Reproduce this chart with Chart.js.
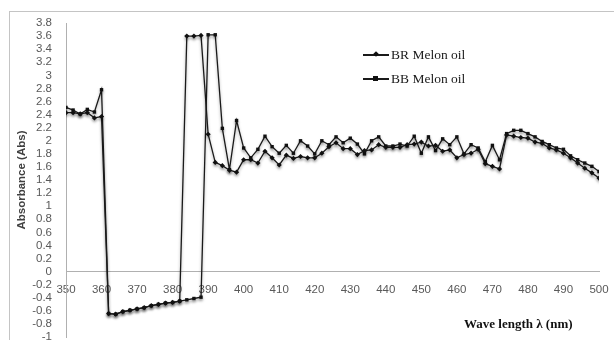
<!DOCTYPE html>
<html>
<head>
<meta charset="utf-8">
<script src="https://cdn.jsdelivr.net/npm/chart.js@4.4.1/dist/chart.umd.min.js"></script>
<style>
  html, body { margin: 0; padding: 0; background: #fff; overflow: hidden; }
  #wrap { position: relative; width: 614px; height: 340px; overflow: hidden; }
  #frame { position: absolute; left: 9px; top: 11px; width: 700px; height: 400px; border: 1px solid #c4c4c4; }
  canvas { position: absolute; left: 0; top: 0; }
  .leg { position: absolute; font-family: "Liberation Serif", "Times New Roman", serif; font-size: 13.5px; color: #1a1a1a; line-height: 16px; white-space: nowrap; }
  .legLine { position: absolute; height: 1.5px; background: #1a1a1a; }
  .legMark { position: absolute; background: #111; }
  #xTitle { position: absolute; left: 464px; top: 316px; font-family: "Liberation Serif", "Times New Roman", serif; font-weight: bold; font-size: 13px; color: #111; white-space: nowrap; }
</style>
</head>
<body>
<div id="wrap">
  <div id="frame"></div>
  <!-- canvas is a bit taller than the window: the axis at y = 0 keeps room below the plot -->
  <canvas id="chart" width="614" height="350"></canvas>

  <!-- legend -->
  <div class="legLine" style="left:363px; top:54px; width:26px;"></div>
  <div class="legMark" style="left:374px; top:52px; width:4px; height:4px; transform:rotate(45deg);"></div>
  <div class="leg" style="left:391px; top:47px;">BR Melon oil</div>

  <div class="legLine" style="left:363px; top:78px; width:26px;"></div>
  <div class="legMark" style="left:373px; top:76px; width:5px; height:5px;"></div>
  <div class="leg" style="left:391px; top:71px;">BB Melon oil</div>

  <div id="xTitle">Wave length λ (nm)</div>
</div>

<script>
// wavelength (nm), one reading every 2 nm
const wavelengths = [
  350, 352, 354, 356, 358, 360, 362, 364, 366, 368, 370, 372, 374, 376, 378, 380,
  382, 384, 386, 388, 390, 392, 394, 396, 398, 400, 402, 404, 406, 408, 410, 412,
  414, 416, 418, 420, 422, 424, 426, 428, 430, 432, 434, 436, 438, 440, 442, 444,
  446, 448, 450, 452, 454, 456, 458, 460, 462, 464, 466, 468, 470, 472, 474, 476,
  478, 480, 482, 484, 486, 488, 490, 492, 494, 496, 498, 500
];

const brMelon = [
  2.43, 2.43, 2.41, 2.43, 2.35, 2.37, -0.64, -0.65, -0.61, -0.59, -0.57, -0.55, -0.52, -0.50, -0.48, -0.47,
  -0.45, 3.60, 3.60, 3.61, 2.10, 1.67, 1.62, 1.55, 1.52, 1.71, 1.71, 1.66, 1.84, 1.74, 1.63, 1.78,
  1.73, 1.76, 1.74, 1.74, 1.81, 1.91, 1.97, 1.88, 1.88, 1.79, 1.85, 1.86, 1.94, 1.90, 1.90, 1.90,
  1.94, 1.95, 1.98, 1.92, 1.93, 1.84, 1.86, 1.74, 1.79, 1.81, 1.87, 1.65, 1.61, 1.57, 2.09, 2.07,
  2.05, 2.04, 1.98, 1.96, 1.89, 1.86, 1.81, 1.74, 1.66, 1.58, 1.51, 1.43
];

const bbMelon = [
  2.51, 2.47, 2.41, 2.48, 2.44, 2.78, -0.64, -0.65, -0.61, -0.59, -0.57, -0.55, -0.52, -0.50, -0.48, -0.47,
  -0.45, -0.43, -0.41, -0.39, 3.62, 3.62, 2.19, 1.56, 2.31, 1.89, 1.74, 1.87, 2.07, 1.91, 1.81, 1.93,
  1.81, 2.00, 1.92, 1.80, 2.00, 1.94, 2.06, 1.97, 2.04, 1.95, 1.80, 2.00, 2.06, 1.92, 1.92, 1.95,
  1.92, 2.07, 1.81, 2.06, 1.85, 2.03, 1.94, 2.06, 1.80, 1.94, 1.89, 1.68, 1.93, 1.71, 2.11, 2.16,
  2.16, 2.11, 2.06, 1.99, 1.94, 1.89, 1.87, 1.77, 1.71, 1.66, 1.61, 1.53
];

const seriesNames = ["BR Melon oil", "BB Melon oil"];
const yTitle = "Absorbance (Abs)";

const toPoints = (vals) => vals.map((v, i) => ({ x: wavelengths[i], y: v }));

// soft drop shadow under the lines, like the original
const lineShadow = {
  id: "lineShadow",
  beforeDatasetsDraw(chart) {
    const ctx = chart.ctx;
    ctx.save();
    ctx.shadowColor = "rgba(0,0,0,0.35)";
    ctx.shadowBlur = 3;
    ctx.shadowOffsetY = 2;
  },
  afterDatasetsDraw(chart) {
    chart.ctx.restore();
  }
};

const tickFont = { family: "'Liberation Sans', Arial, sans-serif", size: 11.5 };

new Chart(document.getElementById("chart"), {
  type: "line",
  data: {
    datasets: [
      {
        label: seriesNames[0],
        data: toPoints(brMelon),
        borderColor: "#1a1a1a",
        backgroundColor: "#111",
        borderWidth: 1.3,
        pointStyle: "rectRot",
        pointRadius: 2.6,
        pointBorderWidth: 0,
        tension: 0
      },
      {
        label: seriesNames[1],
        data: toPoints(bbMelon),
        borderColor: "#1a1a1a",
        backgroundColor: "#111",
        borderWidth: 1.3,
        pointStyle: "rect",
        pointRadius: 2.4,
        pointBorderWidth: 0,
        tension: 0
      }
    ]
  },
  options: {
    responsive: false,
    animation: false,
    layout: { padding: { top: 23, bottom: 6, left: 0, right: 15 } },
    plugins: {
      legend: { display: false },
      tooltip: { enabled: false }
    },
    scales: {
      x: {
        type: "linear",
        position: { y: 0 },
        min: 350,
        max: 500,
        grid: { display: false },
        border: { display: true, color: "#b0b0b0", width: 1 },
        ticks: {
          stepSize: 10,
          padding: 3,
          color: "#595959",
          font: tickFont,
          maxRotation: 0,
          autoSkip: false,
          callback: (v) => String(v)
        }
      },
      y: {
        min: -1,
        max: 3.8,
        grid: { display: false },
        border: { display: true, color: "#b0b0b0", width: 1 },
        ticks: {
          stepSize: 0.2,
          padding: 6,
          autoSkip: false,
          color: "#595959",
          font: tickFont,
          callback: (v) => String(Math.round(v * 10) / 10)
        },
        title: {
          display: true,
          text: yTitle,
          color: "#404040",
          font: { family: "'Liberation Sans', Arial, sans-serif", size: 11.5, weight: "bold" },
          padding: { top: 15, bottom: 0 }
        },
        afterFit: (scale) => { scale.width = 66; }
      }
    }
  },
  plugins: [lineShadow]
});
</script>
</body>
</html>
